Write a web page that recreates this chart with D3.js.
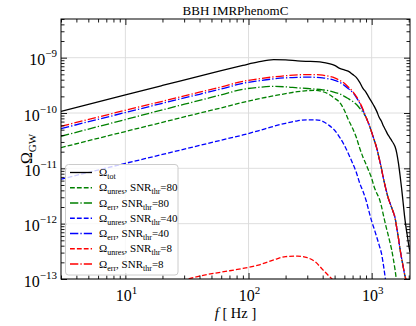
<!DOCTYPE html>
<html><head><meta charset="utf-8">
<script src="https://cdn.jsdelivr.net/npm/d3@7"></script>
<style>body{margin:0;background:#fff} svg{display:block}</style>
</head><body>
<script>
// ---------------- data ----------------
const freqs = [3,10,20,40,60,90,120,160,200,250,300,350,400,450,500,550,600,650,700,750,800,850,900,950,1000,
  1050,1100,1150,1200,1250,1300,1350,1400,1450,1500,1550,1600,1650,1700,1750,1800,1850,1900,1950,2000,2048];

const omegaTot = [1.07e-10,2.13e-10,3.15e-10,4.65e-10,5.85e-10,7.26e-10,8.40e-10,9.20e-10,9.13e-10,
  8.75e-10,8.58e-10,8.47e-10,8.23e-10,7.79e-10,7.26e-10,6.41e-10,6.02e-10,5.66e-10,4.99e-10,4.41e-10,3.58e-10,2.79e-10,2.36e-10,1.92e-10,1.59e-10,
  1.32e-10,1.07e-10,8.37e-11,7.08e-11,5.75e-11,4.87e-11,4.12e-11,3.64e-11,3.21e-11,2.84e-11,2.45e-11,1.87e-11,1.24e-11,7.51e-12,4.37e-12,2.44e-12,1.37e-12,8.64e-13,5.94e-13,4.09e-13,3.06e-13];

const omegaUnres80 = [2.37e-11,4.63e-11,6.79e-11,9.96e-11,1.24e-10,1.56e-10,1.80e-10,2.04e-10,2.24e-10,
  2.43e-10,2.54e-10,2.57e-10,2.43e-10,2.18e-10,1.84e-10,1.56e-10,1.12e-10,7.38e-11,5.29e-11,3.64e-11,2.31e-11,1.59e-11,1.19e-11,8.86e-12,6.63e-12,
  4.56e-12,3.55e-12,2.88e-12,2.07e-12,1.37e-12,9.39e-13,6.74e-13,4.83e-13,3.46e-13,2.29e-13,1.45e-13,8.43e-14,5.0e-14,null,null,null,null,null,null,null,null];

const omegaErr80 = [3.80e-11,7.63e-11,1.14e-10,1.69e-10,2.13e-10,2.68e-10,2.91e-10,3.03e-10,2.97e-10,
  2.85e-10,2.77e-10,2.70e-10,2.62e-10,2.52e-10,2.36e-10,2.22e-10,2.00e-10,1.80e-10,1.63e-10,1.44e-10,1.22e-10,1.03e-10,8.37e-11,6.25e-11,4.48e-11,
  3.21e-11,2.31e-11,1.52e-11,1.00e-11,6.36e-12,4.37e-12,3.13e-12,2.44e-12,1.98e-12,1.61e-12,1.26e-12,8.29e-13,5.47e-13,3.46e-13,2.38e-13,1.71e-13,1.23e-13,9.55e-14,7.14e-14,5.56e-14,4.34e-14];

const omegaUnres40 = [6.36e-12,1.23e-11,1.78e-11,2.59e-11,3.23e-11,4.01e-11,4.77e-11,5.75e-11,6.52e-11,
  7.23e-11,7.54e-11,7.54e-11,7.08e-11,6.00e-11,4.87e-11,3.64e-11,2.61e-11,1.80e-11,1.24e-11,8.50e-12,5.38e-12,3.86e-12,2.65e-12,1.68e-12,1.11e-12,
  7.96e-13,5.71e-13,4.09e-13,2.93e-13,1.71e-13,9.16e-14,5.12e-14,null,null,null,null,null,null,null,null,null,null,null,null,null,null];

const omegaErr40 = [5.23e-11,1.02e-10,1.50e-10,2.18e-10,2.72e-10,3.44e-10,3.81e-10,4.14e-10,4.32e-10,
  4.41e-10,4.45e-10,4.41e-10,4.32e-10,4.14e-10,3.89e-10,3.58e-10,3.16e-10,2.73e-10,2.36e-10,1.92e-10,1.50e-10,1.12e-10,8.37e-11,6.25e-11,4.48e-11,
  3.21e-11,2.31e-11,1.52e-11,1.00e-11,6.36e-12,4.37e-12,3.13e-12,2.44e-12,1.98e-12,1.61e-12,1.26e-12,8.29e-13,5.47e-13,3.46e-13,2.38e-13,1.71e-13,1.23e-13,9.55e-14,7.14e-14,5.56e-14,4.34e-14];

const omegaUnres8 = [null,null,7.0e-14,1.13e-13,1.33e-13,1.55e-13,1.78e-13,2.21e-13,2.54e-13,
  2.59e-13,2.43e-13,2.02e-13,1.48e-13,1.13e-13,8.70e-14,5.12e-14,null,null,null,null,null,null,null,null,null,
  null,null,null,null,null,null,null,null,null,null,null,null,null,null,null,null,null,null,null,null,null];

const omegaErr8 = [5.75e-11,1.12e-10,1.63e-10,2.38e-10,2.97e-10,3.73e-10,4.14e-10,4.50e-10,4.73e-10,
  4.89e-10,4.95e-10,4.93e-10,4.83e-10,4.60e-10,4.32e-10,3.89e-10,3.44e-10,2.91e-10,2.46e-10,2.00e-10,1.56e-10,1.17e-10,8.37e-11,6.25e-11,4.48e-11,
  3.21e-11,2.31e-11,1.52e-11,1.00e-11,6.36e-12,4.37e-12,3.13e-12,2.44e-12,1.98e-12,1.61e-12,1.26e-12,8.29e-13,5.47e-13,3.46e-13,2.38e-13,1.71e-13,1.23e-13,9.55e-14,7.14e-14,5.56e-14,4.34e-14];

const legendLabels = ["Ω_{tot}","Ω_{unres}, SNR_{thr}=80","Ω_{err}, SNR_{thr}=80","Ω_{unres}, SNR_{thr}=40",
  "Ω_{err}, SNR_{thr}=40","Ω_{unres}, SNR_{thr}=8","Ω_{err}, SNR_{thr}=8"];
const seriesColors = ["#000000","#008000","#008000","#0000ff","#0000ff","#ff0000","#ff0000"];
const seriesDash = ["solid","dashed","dashdot","dashed","dashdot","dashed","dashdot"];

const xTickValues = [10,100,1000];
const xTickExps = ["1","2","3"];
const yTickValues = [1e-13,1e-12,1e-11,1e-10,1e-9];
const yTickExps = ["−13","−12","−11","−10","−9"];
const titleText = "BBH IMRPhenomC";

// ---------------- drawing ----------------
const W = 416, H = 326;
const L = 61, R = 410, T = 19, B = 279;
const FONT = "'Liberation Serif','Times New Roman',serif";

const svg = d3.select("body").append("svg").attr("width", W).attr("height", H)
  .style("font-family", FONT);

const x = d3.scaleLog().domain([3, 2048]).range([L, R]);
const y = d3.scaleLog().domain([1e-13, 5e-9]).range([B, T]);

// grid
const grid = svg.append("g").attr("stroke", "#dadada").attr("stroke-width", 0.9);
xTickValues.forEach(v => grid.append("line").attr("x1", x(v)).attr("x2", x(v)).attr("y1", T).attr("y2", B));
yTickValues.forEach(v => grid.append("line").attr("x1", L).attr("x2", R).attr("y1", y(v)).attr("y2", y(v)));

// curves
svg.append("defs").append("clipPath").attr("id", "clip")
  .append("rect").attr("x", L).attr("y", T).attr("width", R - L).attr("height", B - T);

const series = [omegaTot, omegaUnres80, omegaErr80, omegaUnres40, omegaErr40, omegaUnres8, omegaErr8];
const lw = 1.3;
const dashMap = {solid: null, dashed: `${3.7*lw},${1.6*lw}`, dashdot: `${6.4*lw},${1.6*lw},${1*lw},${1.6*lw}`};

const line = d3.line()
  .defined(d => d[1] != null)
  .x(d => x(d[0])).y(d => y(d[1]))
  .curve(d3.curveMonotoneX);

const curves = svg.append("g").attr("clip-path", "url(#clip)");
series.forEach((vals, i) => {
  const pts = freqs.map((f, j) => [f, vals[j]]);
  curves.append("path").attr("d", line(pts)).attr("fill", "none")
    .attr("stroke", seriesColors[i]).attr("stroke-width", lw)
    .attr("stroke-dasharray", dashMap[seriesDash[i]]);
});

// ticks (inward, all four sides)
const xMinor = [], yMinor = [];
[1, 10, 100, 1000].forEach(d => { for (let k = 2; k <= 9; k++) { const v = k * d; if (v >= 3 && v <= 2048) xMinor.push(v); } });
[-13, -12, -11, -10, -9].forEach(e => { for (let k = 2; k <= 9; k++) { const v = k * Math.pow(10, e); if (v <= 5e-9) yMinor.push(v); } });

function styleAxis(g) { g.select(".domain").remove(); g.selectAll("line").attr("stroke", "#000").attr("stroke-width", 0.9); }
svg.append("g").attr("transform", `translate(0,${B})`).call(d3.axisBottom(x).tickValues(xTickValues).tickSize(-6).tickFormat("")).call(styleAxis);
svg.append("g").attr("transform", `translate(0,${B})`).call(d3.axisBottom(x).tickValues(xMinor).tickSize(-3.5).tickFormat("")).call(styleAxis);
svg.append("g").attr("transform", `translate(0,${T})`).call(d3.axisTop(x).tickValues(xTickValues).tickSize(-6).tickFormat("")).call(styleAxis);
svg.append("g").attr("transform", `translate(0,${T})`).call(d3.axisTop(x).tickValues(xMinor).tickSize(-3.5).tickFormat("")).call(styleAxis);
svg.append("g").attr("transform", `translate(${L},0)`).call(d3.axisLeft(y).tickValues(yTickValues).tickSize(-6).tickFormat("")).call(styleAxis);
svg.append("g").attr("transform", `translate(${L},0)`).call(d3.axisLeft(y).tickValues(yMinor).tickSize(-3.5).tickFormat("")).call(styleAxis);
svg.append("g").attr("transform", `translate(${R},0)`).call(d3.axisRight(y).tickValues(yTickValues).tickSize(-6).tickFormat("")).call(styleAxis);
svg.append("g").attr("transform", `translate(${R},0)`).call(d3.axisRight(y).tickValues(yMinor).tickSize(-3.5).tickFormat("")).call(styleAxis);

// frame
svg.append("rect").attr("x", L).attr("y", T).attr("width", R - L).attr("height", B - T)
  .attr("fill", "none").attr("stroke", "#000").attr("stroke-width", 1);

// tick labels
xTickValues.forEach((v, i) => {
  const t = svg.append("text").attr("x", x(v) + 1).attr("y", 301).attr("text-anchor", "middle").attr("font-size", 16);
  t.append("tspan").text("10");
  t.append("tspan").attr("dy", -7).attr("font-size", 11).text(xTickExps[i]);
});
yTickValues.forEach((v, i) => {
  const t = svg.append("text").attr("x", 57).attr("y", y(v) + 7.5).attr("text-anchor", "end").attr("font-size", 16);
  t.append("tspan").text("10");
  t.append("tspan").attr("dy", -8).attr("font-size", 11).text(yTickExps[i]);
});

// title
svg.append("text").attr("x", (L + R) / 2).attr("y", 15).attr("text-anchor", "middle").attr("font-size", 13).text(titleText);

// axis labels
const xl = svg.append("text").attr("x", (L + R) / 2).attr("y", 317.5).attr("text-anchor", "middle").attr("font-size", 14.5);
xl.append("tspan").attr("font-style", "italic").text("f");
xl.append("tspan").text(" [ Hz ]");

const yl = svg.append("text").attr("transform", `translate(32,${(T + B) / 2}) rotate(-90)`).attr("text-anchor", "middle").attr("font-size", 16);
yl.append("tspan").text("Ω");
yl.append("tspan").attr("dy", 4).attr("font-size", 11).text("GW");

// legend
const lg = svg.append("g");
lg.append("rect").attr("x", 65.5).attr("y", 164.5).attr("width", 112.5).attr("height", 110.5).attr("rx", 3)
  .attr("fill", "#fff").attr("fill-opacity", 0.8).attr("stroke", "#cccccc").attr("stroke-width", 1);

function richText(sel, str, base, sub) {
  const parts = str.split(/_\{([^}]*)\}/);
  let shifted = false;
  parts.forEach((p, k) => {
    if (p === "") return;
    const isSub = k % 2 === 1;
    const ts = sel.append("tspan").text(p).attr("font-size", isSub ? sub : base);
    if (isSub && !shifted) { ts.attr("dy", 3); shifted = true; }
    else if (!isSub && shifted) { ts.attr("dy", -3); shifted = false; }
  });
}

legendLabels.forEach((lab, i) => {
  const yy = 172.5 + i * 15.25;
  lg.append("line").attr("x1", 70).attr("x2", 92).attr("y1", yy).attr("y2", yy)
    .attr("stroke", seriesColors[i]).attr("stroke-width", lw)
    .attr("stroke-dasharray", dashMap[seriesDash[i]]);
  const t = lg.append("text").attr("x", 99).attr("y", yy + 3.5).attr("font-size", 11);
  richText(t, lab, 11, 8);
});
</script>
</body></html>
